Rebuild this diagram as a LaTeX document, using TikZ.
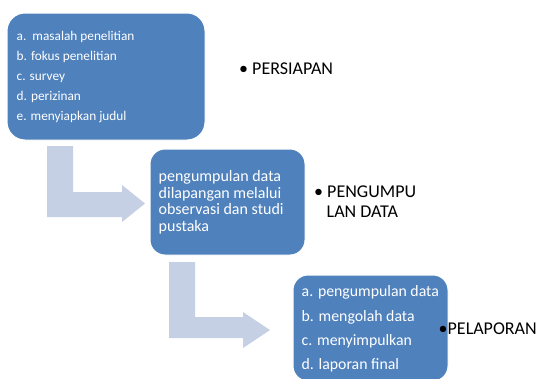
\documentclass[tikz,border=0pt]{standalone}
\usepackage{fontspec}
\setmainfont{Carlito}
\definecolor{boxblue}{HTML}{4F81BD}
\definecolor{arrowgray}{RGB}{197,208,228}
\begin{document}
\begin{tikzpicture}[x=1pt,y=-1pt,
  bluebox/.style={draw=white,line width=1pt,fill=boxblue,rounded corners=#1,inner sep=0pt},
  bluebox/.default=16pt,
  boxtxt/.style={anchor=base west,inner sep=0pt,text=white},
  lbl/.style={anchor=base west,inner sep=0pt,text=black,font=\fontsize{18}{20}\selectfont},
  bentarrow/.style={fill=arrowgray,draw=none}]
\path[use as bounding box] (0,0) rectangle (543,378);
\clip (0,0) rectangle (543,378);
% bent arrows
\fill[bentarrow] (47,146) -- (73,146) -- (73,192) -- (122,192) -- (122,185) -- (145,203.5)
  -- (122,222) -- (122,217) -- (47,217) -- cycle;
\fill[bentarrow] (169,262) -- (195,262) -- (195,317) -- (243,317) -- (243,312) -- (270,330)
  -- (243,348) -- (243,338) -- (169,338) -- cycle;
% boxes
\node[bluebox=18pt,minimum width=198pt,minimum height=127pt] (b1) at (106,76.5) {};
\node[bluebox=15pt,minimum width=155pt,minimum height=106pt] (b2) at (227.5,202) {};
\node[bluebox=15pt,minimum width=155pt,minimum height=106pt] (b3) at (370.5,328) {};
% box 1 text
\foreach \t [count=\i from 0] in {a.\ \ masalah penelitian,b. fokus penelitian,c. survey,d. perizinan,e. menyiapkan judul}
  \node[boxtxt,font=\fontsize{13.3}{15}\selectfont] (t1\i) at (16.5,40.7+19.9*\i) {\t};
% box 2 text
\foreach \t [count=\i from 0] in {pengumpulan data,dilapangan melalui,observasi dan studi,pustaka}
  \node[boxtxt,font=\fontsize{16}{18}\selectfont] (t2\i) at (158.5,181.5+16.7*\i) {\t};
% box 3 text
\foreach \t [count=\i from 0] in {a. pengumpulan data,b. mengolah data,c. menyimpulkan,d. laporan final}
  \node[boxtxt,font=\fontsize{15.8}{18}\selectfont] (t3\i) at (301.5,296.7+24.4*\i) {\t};
% labels
\node[lbl] (l1) at (239,74.3) {• PERSIAPAN};
\node[lbl] (l2) at (314,197.7) {• PENGUMPU};
\node[lbl] (l3) at (326.5,217.7) {LAN DATA};
\node[lbl] (l4) at (438.5,334) {•PELAPORAN};
\end{tikzpicture}
\end{document}
